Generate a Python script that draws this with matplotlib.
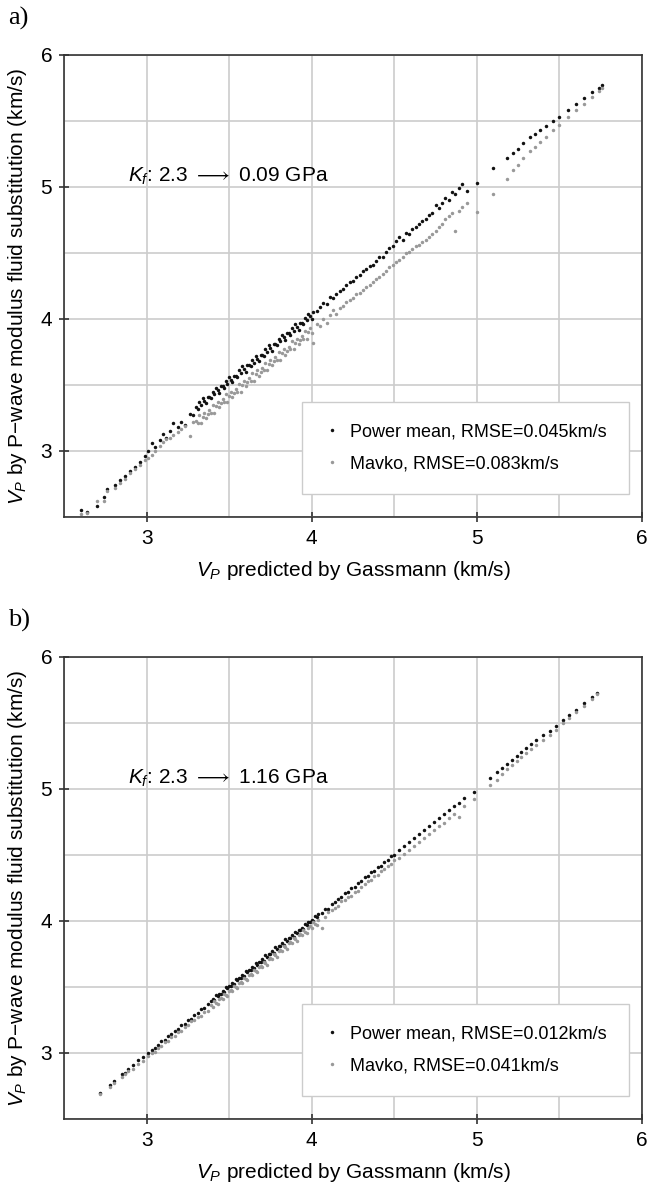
import matplotlib
matplotlib.use("Agg")
import matplotlib.pyplot as plt
from matplotlib.ticker import MultipleLocator

plt.rcParams['font.family'] = ['Liberation Sans', 'DejaVu Sans']
plt.rcParams['mathtext.fontset'] = 'custom'
plt.rcParams['mathtext.rm'] = 'Liberation Sans'
plt.rcParams['mathtext.it'] = 'Liberation Sans:italic'

# ---- panel a) : Kf 2.3 -> 0.09 GPa ----
gass_a = [2.60, 2.64, 2.70, 2.74, 2.76, 2.81, 2.84, 2.87, 2.90, 2.93, 2.96, 2.99,
          3.01, 3.03, 3.05, 3.08, 3.10, 3.12, 3.14, 3.16, 3.19, 3.21, 3.23, 3.26, 3.28,
          3.30, 3.31, 3.32, 3.33, 3.34, 3.35, 3.36, 3.37, 3.38, 3.39,
          3.40, 3.41, 3.42, 3.43, 3.44, 3.45, 3.46, 3.47, 3.48, 3.49,
          3.50, 3.51, 3.52, 3.53, 3.54, 3.55, 3.56, 3.57, 3.58, 3.59,
          3.60, 3.61, 3.62, 3.63, 3.64, 3.65, 3.66, 3.67, 3.68, 3.69,
          3.70, 3.71, 3.72, 3.73, 3.74, 3.75, 3.76, 3.77, 3.78, 3.79,
          3.80, 3.81, 3.82, 3.83, 3.84, 3.85, 3.86, 3.87, 3.88, 3.89,
          3.90, 3.91, 3.92, 3.93, 3.94, 3.95, 3.96, 3.97, 3.98, 3.99,
          4.00, 4.01, 4.03, 4.05, 4.07, 4.09, 4.11, 4.13, 4.15, 4.17, 4.19,
          4.21, 4.23, 4.25, 4.27, 4.29, 4.31, 4.33, 4.35, 4.37, 4.39,
          4.41, 4.43, 4.45, 4.47, 4.49, 4.51, 4.53, 4.55, 4.57, 4.59,
          4.61, 4.63, 4.65, 4.67, 4.69, 4.71, 4.73, 4.75, 4.77, 4.79,
          4.81, 4.83, 4.85, 4.87, 4.89, 4.91, 4.94, 5.00,
          5.10, 5.18, 5.22, 5.25, 5.28, 5.32, 5.35, 5.38, 5.42, 5.46,
          5.50, 5.55, 5.60, 5.65, 5.70, 5.74, 5.76]
power_a = [2.55, 2.54, 2.58, 2.65, 2.71, 2.74, 2.78, 2.81, 2.85, 2.88, 2.92, 2.96,
           3.00, 3.06, 3.03, 3.08, 3.13, 3.10, 3.15, 3.21, 3.18, 3.22, 3.20, 3.28, 3.27,
           3.33, 3.32, 3.37, 3.35, 3.40, 3.38, 3.36, 3.41, 3.41, 3.40,
           3.45, 3.43, 3.48, 3.46, 3.44, 3.49, 3.49, 3.48, 3.53, 3.51,
           3.56, 3.54, 3.52, 3.57, 3.57, 3.56, 3.61, 3.59, 3.64, 3.62,
           3.60, 3.65, 3.65, 3.64, 3.69, 3.67, 3.72, 3.70, 3.68, 3.73,
           3.73, 3.72, 3.77, 3.75, 3.80, 3.78, 3.76, 3.81, 3.81, 3.80,
           3.85, 3.83, 3.88, 3.86, 3.84, 3.89, 3.89, 3.88, 3.93, 3.91,
           3.96, 3.94, 3.92, 3.97, 3.97, 3.96, 4.01, 3.99, 4.04, 4.02,
           4.00, 4.05, 4.06, 4.09, 4.12, 4.11, 4.17, 4.16, 4.19, 4.21, 4.23,
           4.26, 4.28, 4.29, 4.32, 4.33, 4.36, 4.38, 4.40, 4.41, 4.44,
           4.47, 4.47, 4.51, 4.54, 4.55, 4.59, 4.62, 4.60, 4.65, 4.64,
           4.68, 4.70, 4.72, 4.74, 4.76, 4.79, 4.80, 4.86, 4.84, 4.88,
           4.92, 4.90, 4.96, 4.95, 4.99, 5.02, 4.97, 5.03,
           5.14, 5.22, 5.26, 5.29, 5.33, 5.38, 5.40, 5.43, 5.46, 5.50,
           5.53, 5.58, 5.63, 5.67, 5.72, 5.75, 5.77]
mavko_a = [2.52, 2.53, 2.62, 2.62, 2.70, 2.72, 2.76, 2.79, 2.83, 2.86, 2.89, 2.93,
           2.95, 2.97, 3.00, 3.04, 3.07, 3.09, 3.10, 3.12, 3.14, 3.17, 3.19, 3.11, 3.22,
           3.23, 3.21, 3.27, 3.21, 3.26, 3.29, 3.25, 3.28, 3.31, 3.29,
           3.35, 3.29, 3.34, 3.37, 3.33, 3.36, 3.39, 3.37, 3.43, 3.37,
           3.42, 3.45, 3.41, 3.44, 3.47, 3.45, 3.51, 3.45, 3.50, 3.53,
           3.49, 3.52, 3.55, 3.53, 3.59, 3.53, 3.58, 3.61, 3.57, 3.60,
           3.63, 3.61, 3.67, 3.61, 3.66, 3.69, 3.65, 3.68, 3.71, 3.69,
           3.75, 3.69, 3.74, 3.77, 3.73, 3.76, 3.79, 3.77, 3.83, 3.77,
           3.82, 3.85, 3.81, 3.84, 3.87, 3.85, 3.91, 3.85, 3.90, 3.93,
           3.89, 3.82, 3.96, 3.95, 4.00, 3.97, 4.03, 4.07, 4.04, 4.08, 4.10,
           4.13, 4.14, 4.16, 4.19, 4.20, 4.22, 4.24, 4.26, 4.28, 4.30,
           4.32, 4.34, 4.36, 4.39, 4.41, 4.43, 4.45, 4.47, 4.50, 4.51,
           4.53, 4.55, 4.56, 4.58, 4.60, 4.62, 4.64, 4.67, 4.70, 4.72,
           4.76, 4.78, 4.80, 4.67, 4.82, 4.85, 4.88, 4.81,
           4.95, 5.06, 5.13, 5.17, 5.22, 5.27, 5.30, 5.34, 5.38, 5.43,
           5.47, 5.53, 5.58, 5.63, 5.68, 5.73, 5.75]

# ---- panel b) : Kf 2.3 -> 1.16 GPa ----
gass_b = [2.72, 2.78, 2.80, 2.85, 2.87, 2.89, 2.92, 2.95, 2.98, 3.01, 3.03, 3.05,
          3.07, 3.09, 3.11, 3.13, 3.15, 3.17, 3.19, 3.21, 3.23, 3.25, 3.27, 3.29,
          3.31, 3.33, 3.35, 3.37,
          3.39, 3.40, 3.41, 3.42, 3.43, 3.44, 3.45, 3.46, 3.47, 3.48, 3.49,
          3.50, 3.51, 3.52, 3.53, 3.54, 3.55, 3.56, 3.57, 3.58, 3.59,
          3.60, 3.61, 3.62, 3.63, 3.64, 3.65, 3.66, 3.67, 3.68, 3.69,
          3.70, 3.71, 3.72, 3.73, 3.74, 3.75, 3.76, 3.77, 3.78, 3.79,
          3.80, 3.81, 3.82, 3.83, 3.84, 3.85, 3.86, 3.87, 3.88, 3.89,
          3.90, 3.91, 3.92, 3.93, 3.94, 3.95, 3.96, 3.97, 3.98, 3.99,
          4.00, 4.01, 4.02, 4.03, 4.04, 4.06, 4.08, 4.10,
          4.12, 4.14, 4.16, 4.18, 4.20, 4.22, 4.24, 4.26, 4.28, 4.30,
          4.32, 4.34, 4.36, 4.38, 4.40, 4.42, 4.44, 4.46, 4.48, 4.50,
          4.53, 4.56, 4.59, 4.62, 4.65, 4.68, 4.71, 4.74, 4.77, 4.80,
          4.83, 4.86, 4.89, 4.92, 4.98,
          5.08, 5.12, 5.15, 5.18, 5.21, 5.24, 5.27, 5.30, 5.33, 5.36,
          5.40, 5.44, 5.48, 5.52, 5.56, 5.60, 5.65, 5.70, 5.73]
power_b = [2.70, 2.76, 2.79, 2.84, 2.85, 2.88, 2.91, 2.95, 2.97, 3.00, 3.02, 3.04,
           3.06, 3.09, 3.10, 3.13, 3.14, 3.17, 3.18, 3.21, 3.22, 3.25, 3.26, 3.29,
           3.30, 3.33, 3.34, 3.37,
           3.39, 3.41, 3.40, 3.44, 3.43, 3.45, 3.45, 3.47, 3.46, 3.50, 3.49,
           3.51, 3.51, 3.53, 3.52, 3.56, 3.55, 3.57, 3.57, 3.59, 3.58,
           3.62, 3.61, 3.63, 3.63, 3.65, 3.64, 3.68, 3.67, 3.69, 3.69,
           3.71, 3.70, 3.74, 3.73, 3.75, 3.75, 3.77, 3.76, 3.80, 3.79,
           3.81, 3.81, 3.83, 3.82, 3.86, 3.85, 3.87, 3.87, 3.89, 3.88,
           3.92, 3.91, 3.93, 3.93, 3.95, 3.94, 3.98, 3.97, 3.99, 3.99,
           4.01, 4.00, 4.04, 4.03, 4.05, 4.06, 4.09, 4.09,
           4.13, 4.14, 4.17, 4.18, 4.21, 4.22, 4.25, 4.26, 4.29, 4.30,
           4.33, 4.34, 4.37, 4.38, 4.41, 4.42, 4.45, 4.46, 4.49, 4.50,
           4.54, 4.57, 4.60, 4.63, 4.66, 4.69, 4.72, 4.75, 4.78, 4.81,
           4.84, 4.87, 4.89, 4.93, 4.98,
           5.08, 5.13, 5.16, 5.19, 5.22, 5.25, 5.28, 5.31, 5.34, 5.37,
           5.41, 5.44, 5.48, 5.52, 5.56, 5.60, 5.65, 5.70, 5.73]
mavko_b = [2.69, 2.74, 2.77, 2.82, 2.84, 2.86, 2.88, 2.92, 2.94, 2.98, 3.00, 3.01,
           3.04, 3.05, 3.08, 3.09, 3.12, 3.13, 3.16, 3.17, 3.20, 3.21, 3.24, 3.25,
           3.27, 3.28, 3.31, 3.32,
           3.36, 3.35, 3.39, 3.38, 3.37, 3.41, 3.42, 3.41, 3.45, 3.44, 3.43,
           3.47, 3.48, 3.47, 3.51, 3.50, 3.49, 3.53, 3.54, 3.53, 3.57,
           3.56, 3.55, 3.59, 3.60, 3.59, 3.63, 3.62, 3.61, 3.65, 3.66,
           3.65, 3.69, 3.68, 3.67, 3.71, 3.72, 3.71, 3.75, 3.74, 3.73,
           3.77, 3.78, 3.77, 3.81, 3.80, 3.79, 3.83, 3.84, 3.83, 3.87,
           3.86, 3.85, 3.89, 3.90, 3.89, 3.93, 3.92, 3.91, 3.95, 3.96,
           3.95, 3.99, 3.98, 3.97, 4.01, 3.95, 4.03, 4.07,
           4.08, 4.10, 4.11, 4.15, 4.16, 4.18, 4.19, 4.22, 4.23, 4.26,
           4.28, 4.30, 4.31, 4.34, 4.35, 4.38, 4.39, 4.42, 4.43, 4.46,
           4.48, 4.51, 4.54, 4.57, 4.60, 4.63, 4.66, 4.69, 4.72, 4.74,
           4.78, 4.81, 4.79, 4.87, 4.92,
           5.03, 5.07, 5.11, 5.15, 5.18, 5.21, 5.24, 5.27, 5.30, 5.33,
           5.37, 5.41, 5.45, 5.50, 5.54, 5.58, 5.63, 5.68, 5.72]

panels = [
    ('a)', gass_a, power_a, mavko_a, '0.09', '0.045', '0.083', 0.5652),
    ('b)', gass_b, power_b, mavko_b, '1.16', '0.012', '0.041', 0.0589),
]

fig = plt.figure(figsize=(6.47, 11.89), dpi=100)

for tag, gx, pm, mv, kf, rm_pm, rm_mv, bottom in panels:
    ax = fig.add_axes([0.0989, bottom, 0.8934, 0.3886])
    ax.plot(gx, pm, 'o', ms=2.5, color='#111111', mec='none',
            label='Power mean, RMSE=%skm/s' % rm_pm)
    ax.plot(gx, mv, 'o', ms=2.5, color='#999999', mec='none',
            label='Mavko, RMSE=%skm/s' % rm_mv)

    ax.set_xlim(2.5, 6)
    ax.set_ylim(2.5, 6)
    for axis in (ax.xaxis, ax.yaxis):
        axis.set_major_locator(MultipleLocator(1))
        axis.set_minor_locator(MultipleLocator(0.5))
    ax.grid(True, which='both', color='#cccccc', lw=1.2)
    ax.set_axisbelow(True)
    ax.tick_params(which='major', direction='inout', length=7, width=1.2,
                   color='#333333', labelsize=15, pad=5)
    ax.tick_params(which='minor', length=0)
    for sp in ax.spines.values():
        sp.set_color('#333333')
        sp.set_linewidth(1.2)

    ax.set_xlabel('$V_P$ predicted by Gassmann (km/s)', fontsize=15, labelpad=8)
    ax.set_ylabel('$V_P$ by P\u2212wave modulus fluid substitution (km/s)',
                  fontsize=15, labelpad=8)

    ax.text(2.89, 5.04, '$K_f$: 2.3 $\\longrightarrow$ %s GPa' % kf,
            fontsize=15, va='baseline')

    leg = ax.legend(loc='lower right', bbox_to_anchor=(0.977, 0.049),
                    borderaxespad=0, fontsize=13, borderpad=1.2,
                    handlelength=1.0, handletextpad=0.5, labelspacing=0.85,
                    fancybox=False, framealpha=1, markerscale=1.0)
    leg.get_frame().set_edgecolor('#cccccc')
    leg.get_frame().set_linewidth(1.0)

    fig.text(0.012, bottom + 0.3886 + 0.0405, tag, fontsize=19,
             family='Liberation Serif', va='top')

fig.savefig('out.png', dpi=100)
